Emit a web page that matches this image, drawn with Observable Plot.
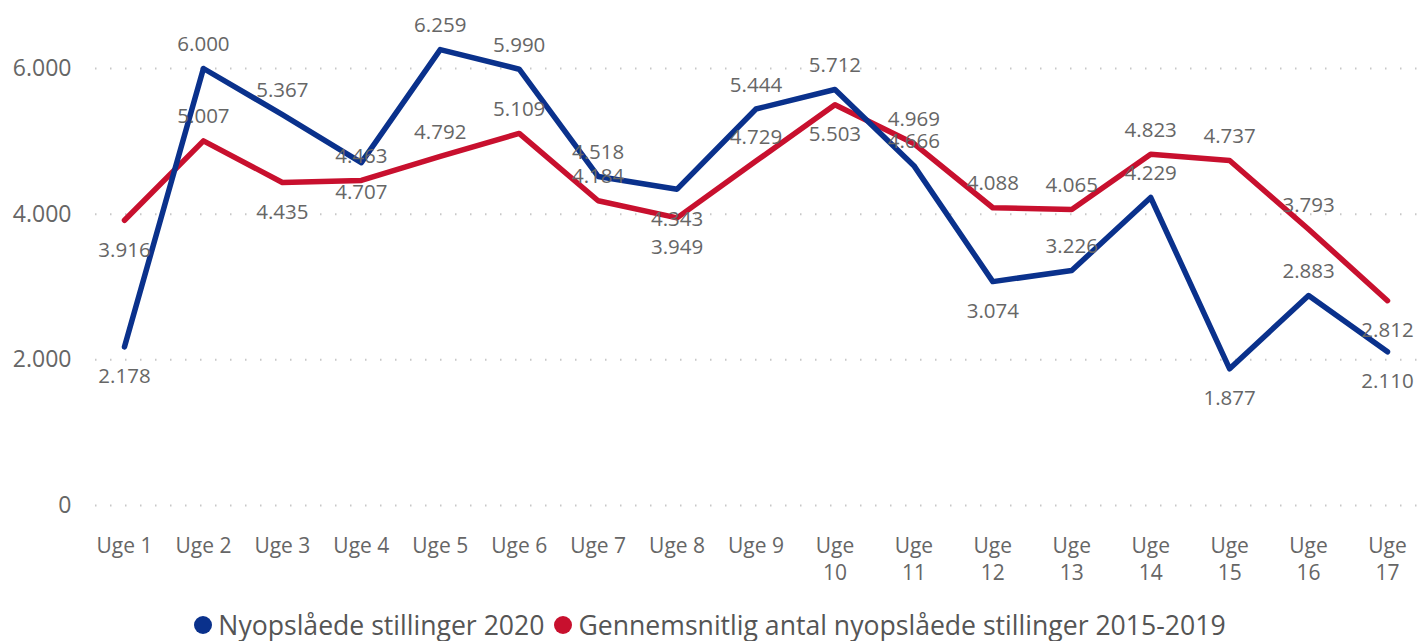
<!DOCTYPE html>
<html>
<head>
<meta charset="utf-8">
<script src="https://cdn.jsdelivr.net/npm/d3@7"></script>
<script src="https://cdn.jsdelivr.net/npm/@observablehq/plot@0.6"></script>
<style>
  html, body { margin: 0; padding: 0; background: #fff; }
  body { width: 1420px; height: 641px; overflow: hidden; font-family: "Open Sans", sans-serif; }
  #legend { display: flex; justify-content: center; align-items: center; height: 41px; padding-top: 8px; box-sizing: border-box; font-size: 26.6px; color: #555; white-space: nowrap; }
  .item { display: flex; align-items: center; margin: 0 5px; }
  .dot { width: 18px; height: 18px; border-radius: 50%; margin-right: 6px; }
</style>
</head>
<body>
<div id="chart"></div>
<div id="legend"></div>
<script>
const weeks = ["Uge 1","Uge 2","Uge 3","Uge 4","Uge 5","Uge 6","Uge 7","Uge 8","Uge 9","Uge 10","Uge 11","Uge 12","Uge 13","Uge 14","Uge 15","Uge 16","Uge 17"];
const series2020 = [2178, 6000, 5367, 4707, 6259, 5990, 4518, 4343, 5444, 5712, 4666, 3074, 3226, 4229, 1877, 2883, 2110];
const seriesAvg = [3916, 5007, 4435, 4463, 4792, 5109, 4184, 3949, 4729, 5503, 4969, 4088, 4065, 4823, 4737, 3793, 2812];
const seriesNames = ["Nyopslåede stillinger 2020", "Gennemsnitlig antal nyopslåede stillinger 2015-2019"];
const yTicks = [0, 2000, 4000, 6000];
// label placement relative to point
const pos2020 = ["below","above","above","below","above","above","above","below","above","above","above","below","above","above","below","above","below"];
const posAvg = ["below","above","below","above","above","above","above","below","above","below","above","above","above","above","above","above","below"];

const colors = ["#0a318c", "#c8102e"];
const fmt = v => d3.format(",")(v).replace(/,/g, ".");

const rows = [];
weeks.forEach((w, i) => {
  rows.push({week: w, value: series2020[i], series: seriesNames[0], pos: pos2020[i]});
  rows.push({week: w, value: seriesAvg[i], series: seriesNames[1], pos: posAvg[i]});
});
const above = rows.filter(d => d.pos === "above");
const below = rows.filter(d => d.pos === "below");

const font = "'Open Sans', sans-serif";
const chart = Plot.plot({
  width: 1420,
  height: 600,
  marginLeft: 95,
  marginRight: 0,
  marginTop: 0,
  marginBottom: 95,
  style: {fontFamily: font, background: "white", overflow: "visible"},
  x: {type: "point", domain: weeks, range: [124, 1387], padding: 0, round: false},
  y: {domain: [0, 6000], range: [505, 68]},
  color: {domain: seriesNames, range: colors},
  marks: [
    Plot.gridY(yTicks, {stroke: "#c8c8c8", strokeOpacity: 1, strokeWidth: 2, strokeDasharray: "1.5,13.5"}),
    Plot.axisY(yTicks, {tickSize: 0, tickPadding: 24, fontSize: 23, fill: "#666", tickFormat: fmt, label: null}),
    Plot.axisX({tickSize: 0, tickPadding: 28, fontSize: 21, fill: "#666", lineHeight: 1.3, label: null,
      tickFormat: d => d.length > 5 ? d.replace(" ", "\n") : d}),
    Plot.line(rows.filter(d => d.series === seriesNames[1]), {x: "week", y: "value", stroke: "series", strokeWidth: 5.5, strokeLinecap: "round", strokeLinejoin: "round"}),
    Plot.line(rows.filter(d => d.series === seriesNames[0]), {x: "week", y: "value", stroke: "series", strokeWidth: 5.5, strokeLinecap: "round", strokeLinejoin: "round"}),
    Plot.text(above, {x: "week", y: "value", text: d => fmt(d.value), dy: -24, fontSize: 20.5, fill: "#666"}),
    Plot.text(below, {x: "week", y: "value", text: d => fmt(d.value), dy: 30, fontSize: 20.5, fill: "#666"})
  ]
});
document.getElementById("chart").appendChild(chart);

const legend = document.getElementById("legend");
seriesNames.forEach((n, i) => {
  const item = document.createElement("div");
  item.className = "item";
  const dot = document.createElement("span");
  dot.className = "dot";
  dot.style.background = colors[i];
  const t = document.createElement("span");
  t.textContent = n;
  item.appendChild(dot);
  item.appendChild(t);
  legend.appendChild(item);
});
</script>
</body>
</html>
